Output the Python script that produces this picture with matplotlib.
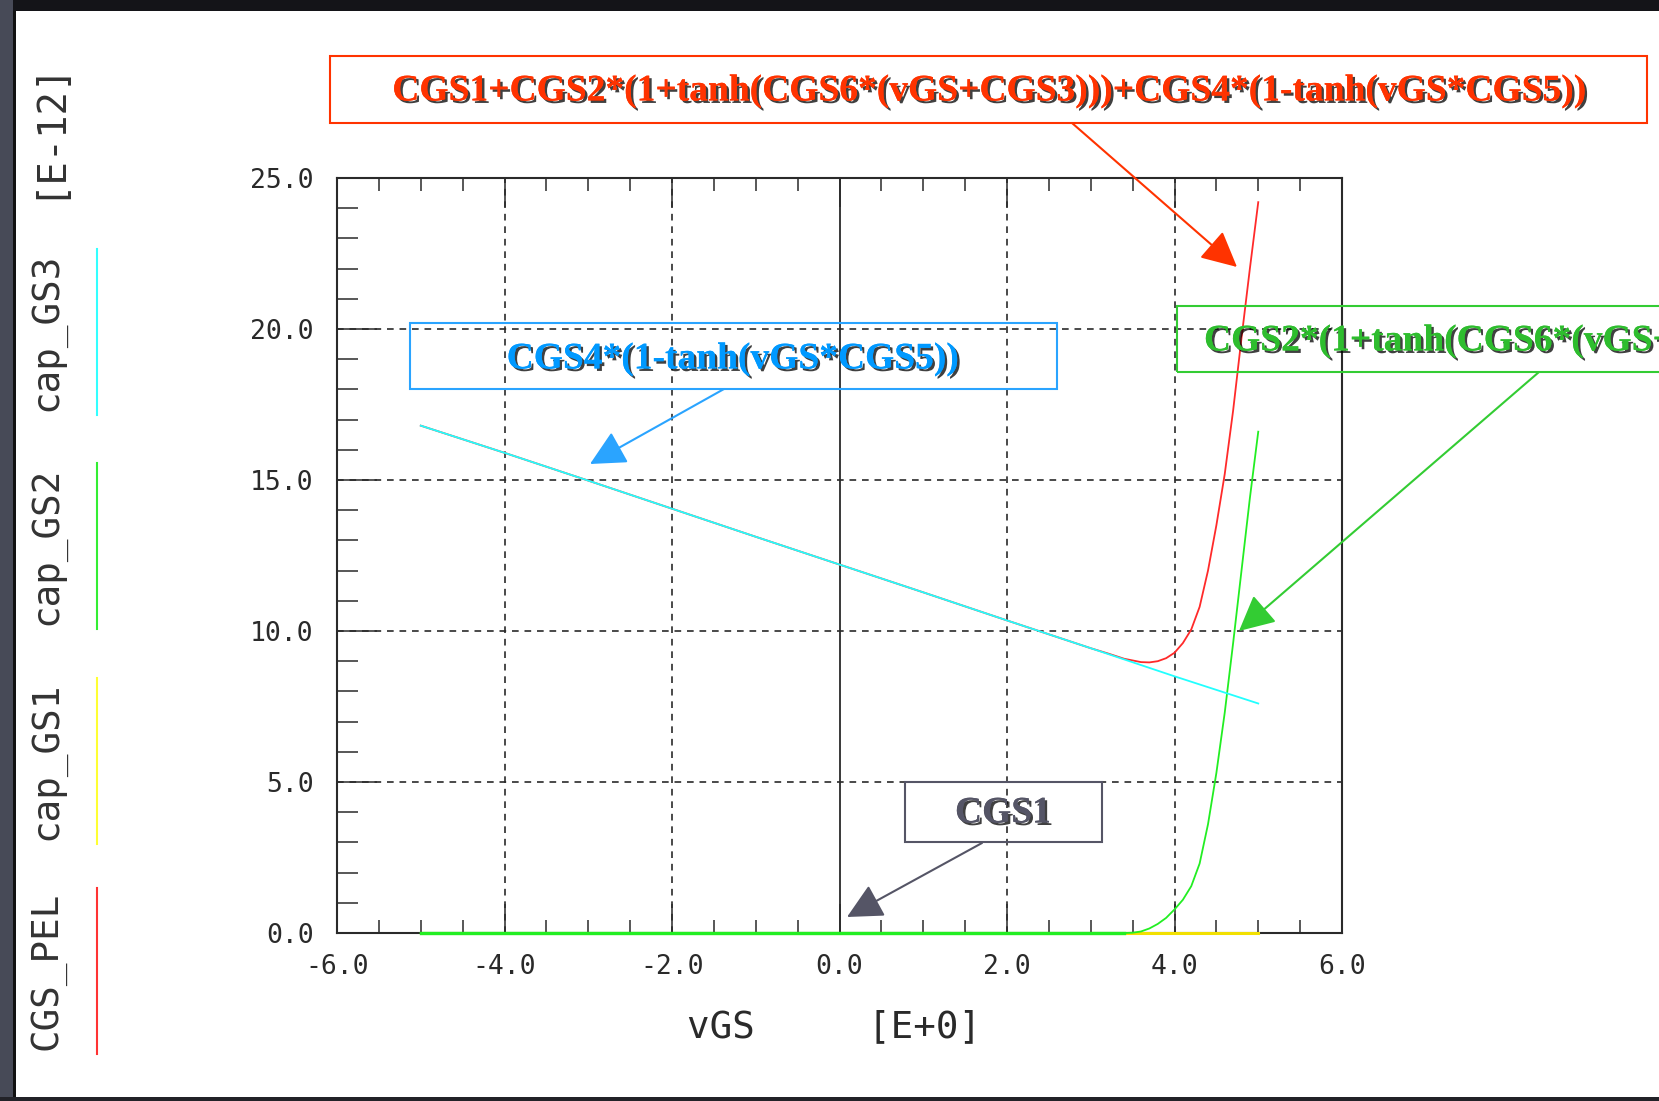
import matplotlib
matplotlib.use("Agg")
import matplotlib.pyplot as plt
import matplotlib.patheffects as pe
from matplotlib.patches import Rectangle, FancyArrowPatch
from matplotlib.lines import Line2D
from matplotlib.ticker import MultipleLocator, FormatStrFormatter

# data (capacitance in pF vs vGS in V)
vgs_cyan = [-5, -4, -3, -2, -1, 0, 1, 2, 3, 4, 5]
cap_gs3 = [16.8, 15.9, 14.98, 14.05, 13.12, 12.2, 11.28, 10.35, 9.43, 8.5, 7.6]

vgs_green = [-5, 3.4, 3.5, 3.6, 3.7, 3.8, 3.9, 4.0, 4.1, 4.2, 4.3, 4.4, 4.5,
             4.6, 4.7, 4.8, 4.9, 5.0]
cap_gs2 = [0, 0, 0.01, 0.05, 0.15, 0.3, 0.5, 0.78, 1.1, 1.55, 2.3, 3.6, 5.3,
           7.3, 9.6, 12.0, 14.4, 16.6]

vgs_yellow = [-5, 5]
cap_gs1 = [0, 0]

vgs_red = [-5, -4, -3, -2, -1, 0, 1, 2, 3, 3.2, 3.4, 3.6, 3.7, 3.8, 3.9, 4.0,
           4.1, 4.2, 4.3, 4.4, 4.5, 4.6, 4.7, 4.8, 4.9, 5.0]
cgs_pel = [16.8, 15.9, 14.98, 14.05, 13.12, 12.2, 11.28, 10.35, 9.43, 9.26,
           9.08, 8.97, 8.96, 9.0, 9.1, 9.28, 9.6, 10.05, 10.8, 12.0, 13.5,
           15.2, 17.3, 19.7, 22.0, 24.2]

legend_names = ["CGS_PEL", "cap_GS1", "cap_GS2", "cap_GS3"]
legend_colors = ["#ff3333", "#ffff33", "#33ee33", "#33ffff"]

W, H = 1659, 1101
fig = plt.figure(figsize=(W / 100, H / 100), dpi=100)
fig.patch.set_facecolor("white")


def fx(px):
    return px / W


def fy(py):
    return 1 - py / H


ax = fig.add_axes([fx(337), fy(933), fx(1342) - fx(337), fy(178) - fy(933)])
ax.set_xlim(-6, 6)
ax.set_ylim(0, 25)

mono = "DejaVu Sans Mono"
ink = "#2a2a2a"

# curves
ax.plot(vgs_red, cgs_pel, color="#ff2a2a", lw=1.3, zorder=3, clip_on=False)
ax.plot(vgs_yellow, cap_gs1, color="#f2e000", lw=2.2, zorder=3.1, clip_on=False)
ax.plot(vgs_green, cap_gs2, color="#22ee22", lw=1.3, zorder=3.2, clip_on=False)
ax.plot(vgs_green[:2], cap_gs2[:2], color="#22ee22", lw=2.4, zorder=3.2, clip_on=False)
ax.plot(vgs_cyan, cap_gs3, color="#22ffff", lw=1.3, zorder=3.3, clip_on=False)

# grid
for v in [5, 10, 15, 20]:
    ax.axhline(v, color=ink, lw=1.2, ls=(0, (4, 3.5)), zorder=1)
for v in [-4, -2, 2, 4]:
    ax.axvline(v, color=ink, lw=1.2, ls=(0, (4, 3.5)), zorder=1)
ax.axvline(0, color=ink, lw=1.3, zorder=1)

# ticks
ax.xaxis.set_major_locator(MultipleLocator(2))
ax.xaxis.set_minor_locator(MultipleLocator(0.5))
ax.yaxis.set_major_locator(MultipleLocator(5))
ax.yaxis.set_minor_locator(MultipleLocator(1))
ax.xaxis.set_major_formatter(FormatStrFormatter("%.1f"))
ax.yaxis.set_major_formatter(FormatStrFormatter("%.1f"))
ax.tick_params(axis="x", which="major", direction="in", length=21, width=1.1,
               top=True, bottom=True, color=ink, pad=15, labelsize=19,
               labelcolor=ink)
ax.tick_params(axis="x", which="minor", direction="in", length=9.5, width=1.1,
               top=True, bottom=True, color=ink)
ax.tick_params(axis="y", which="major", direction="in", length=29, width=1.1,
               left=True, right=False, color=ink, pad=17, labelsize=19,
               labelcolor=ink)
ax.tick_params(axis="y", which="minor", direction="in", length=15, width=1.1,
               left=True, right=False, color=ink)
for lab in ax.get_xticklabels() + ax.get_yticklabels():
    lab.set_family(mono)
for sp in ax.spines.values():
    sp.set_color(ink)
    sp.set_linewidth(1.5)

fig.text(fx(834), fy(1027), "vGS     [E+0]", family=mono, fontsize=27,
         color=ink, ha="center", va="center")

# vertical legend on the left
legend_y = [971, 761, 546, 332]
for name, col, yc in zip(legend_names, legend_colors, legend_y):
    fig.text(fx(47), fy(yc), name, family=mono, fontsize=27, color="#333333",
             rotation=90, ha="center", va="center")
    fig.add_artist(Line2D([fx(97), fx(97)], [fy(yc - 83), fy(yc + 83)],
                          transform=fig.transFigure, color=col, lw=1.5))
fig.text(fx(47), fy(129), "[E-12]", family=mono, fontsize=28, color="#333333",
         rotation=90, ha="center", va="center")

# annotation boxes and arrows
shadow = [pe.withSimplePatchShadow(offset=(1.8, -1.8), shadow_rgbFace="black",
                                   alpha=0.75), pe.Normal()]


def callout(box, text, text_xy, ha, color, edge, start, end):
    x0, y0, x1, y1 = box
    fig.add_artist(Rectangle((fx(x0), fy(y1)), fx(x1) - fx(x0), fy(y0) - fy(y1),
                             transform=fig.transFigure, fill=False,
                             edgecolor=edge, lw=1.5, zorder=5))
    fig.text(fx(text_xy[0]), fy(text_xy[1]), text, family="Liberation Serif",
             weight="bold", fontsize=27, color=color, ha=ha, va="center",
             path_effects=shadow, zorder=6)
    fig.add_artist(FancyArrowPatch((fx(start[0]), fy(start[1])),
                                   (fx(end[0]), fy(end[1])),
                                   transform=fig.transFigure,
                                   arrowstyle="-|>,head_length=1.1,head_width=0.55",
                                   mutation_scale=20, color=edge, lw=1.5,
                                   shrinkA=0, shrinkB=0, zorder=6))


callout((330, 56, 1647, 123),
        "CGS1+CGS2*(1+tanh(CGS6*(vGS+CGS3)))+CGS4*(1-tanh(vGS*CGS5))",
        (990, 91), "center", "#ff3300", "#ff3300", (1072, 123), (1237, 267))
callout((410, 323, 1057, 389), "CGS4*(1-tanh(vGS*CGS5))",
        (733, 359), "center", "#0099ff", "#2aa4ff", (724, 389), (590, 464))
callout((1177, 306, 1760, 372), "CGS2*(1+tanh(CGS6*(vGS+CGS3)))",
        (1204, 341), "left", "#2ebd2e", "#33cc33", (1539, 372), (1239, 631))
callout((905, 782, 1102, 842), "CGS1",
        (1003, 813), "center", "#555566", "#555566", (982, 843), (847, 917))

# dark screen frame
frame = [(0, 0, W, 11, "#141418"), (0, 0, 13, H, "#474a57"),
         (13, 11, 3, H - 11, "#111111"), (0, H - 4, W, 4, "#222228")]
for x0, y0, w, h, c in frame:
    fig.add_artist(Rectangle((fx(x0), fy(y0 + h)), w / W, h / H,
                             transform=fig.transFigure, color=c, lw=0,
                             zorder=10))

fig.savefig("out.png", dpi=100)
